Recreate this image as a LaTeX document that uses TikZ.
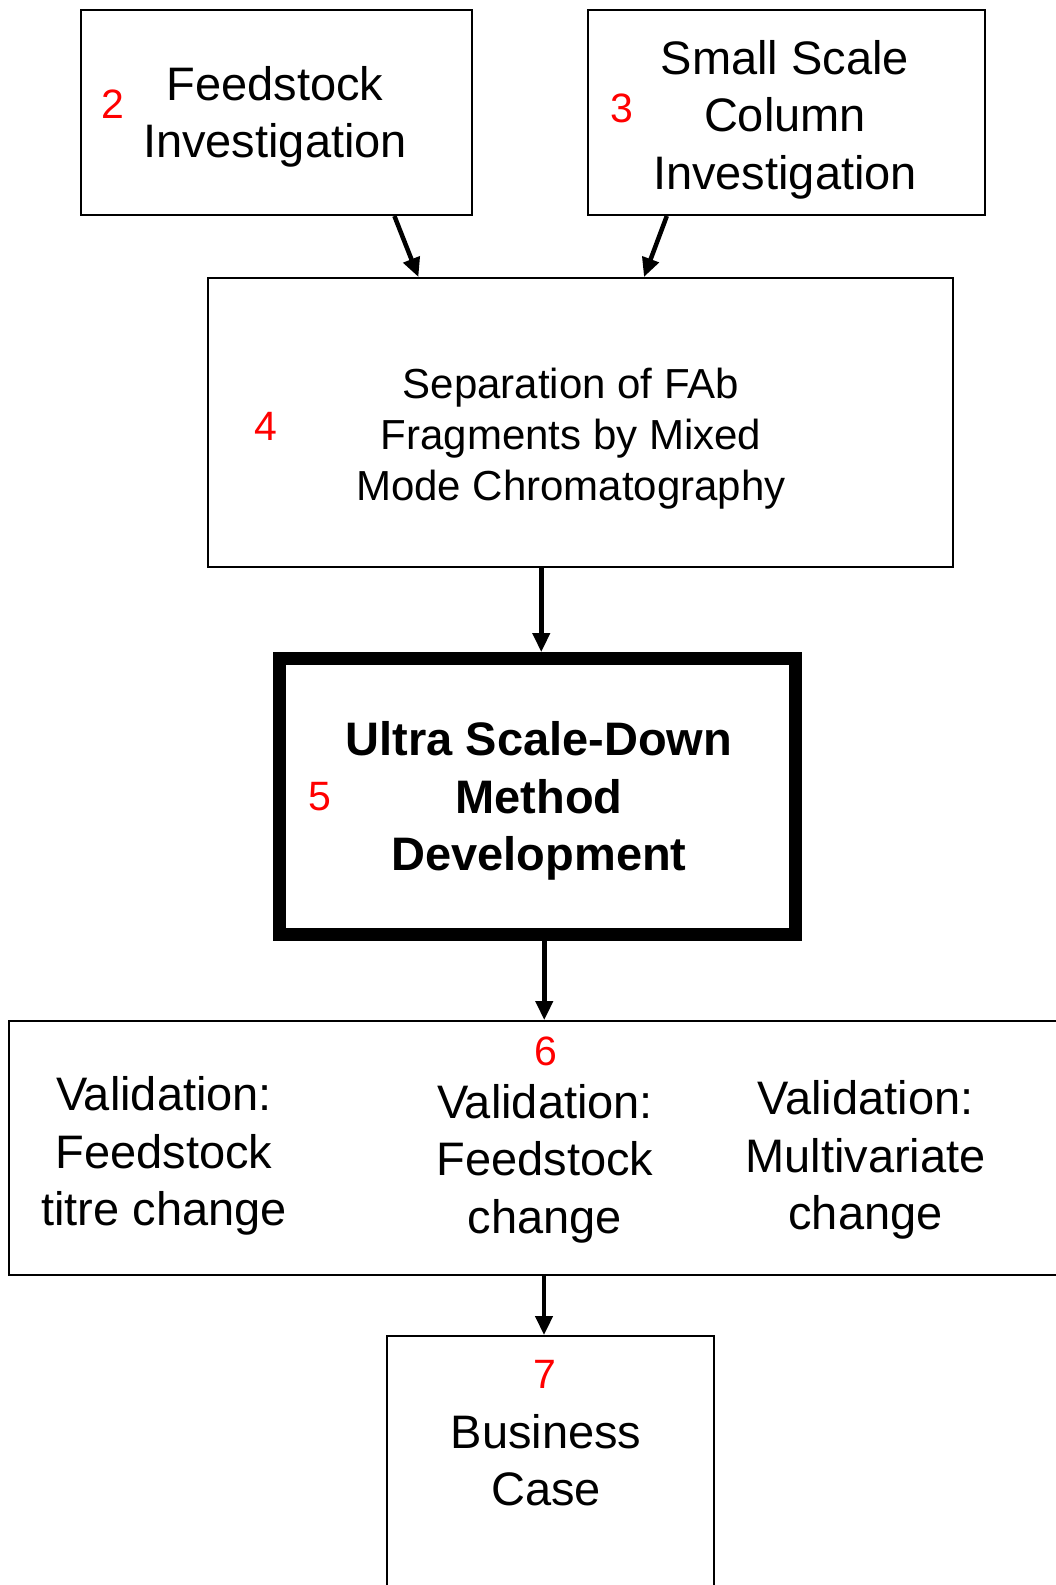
\documentclass[tikz,border=0pt]{standalone}
\usepackage{fontspec}
\setmainfont{Liberation Sans}
\usetikzlibrary{arrows.meta,calc}
\begin{document}
\begin{tikzpicture}[x=1pt,y=-1pt,
  box/.style={draw,line width=2pt,inner sep=0pt,rectangle},
  keybox/.style={draw,line width=13pt,inner sep=0pt,rectangle},
  lbl/.style={align=center,inner sep=0pt,font=\fontsize{47}{57.5}\selectfont},
  smalllbl/.style={align=center,inner sep=0pt,font=\fontsize{42}{51}\selectfont},
  keylbl/.style={align=center,inner sep=0pt,font=\fontsize{47}{57.5}\selectfont\bfseries},
  num/.style={inner sep=0pt,text=red,font=\fontsize{41}{48}\selectfont},
  arr/.style={line width=4.5pt,-{Triangle[length=19pt,width=17pt]}}
]
\useasboundingbox (0,0) rectangle (1056,1585);
\clip (0,0) rectangle (1056,1585);
\fill[white] (0,0) rectangle (1056,1585);

% boxes
\node[box, minimum width=391pt, minimum height=205pt] (b2) at (276.5,112.5) {};
\node[box, minimum width=397pt, minimum height=205pt] (b3) at (786.5,112.5) {};
\node[box, minimum width=745pt, minimum height=289pt] (b4) at (580.5,422.5) {};
\node[keybox, minimum width=515.5pt, minimum height=275.5pt] (b5) at (537.25,796.25) {};
\node[box, minimum width=1061pt, minimum height=254pt] (b6) at (539.5,1148) {};
\node[box, minimum width=327pt, minimum height=284pt] (b7) at (550.5,1478) {};

% step numbers
\node[num] (n2) at (112.7,104) {2};
\node[num] (n3) at (621.5,108.5) {3};
\node[num] (n4) at (266,426.5) {4};
\node[num] (n5) at (320,796.5) {5};
\node[num] (n6) at (546,1051.5) {6};
\node[num] (n7) at (545,1374.5) {7};

% labels
\node[lbl] (t2) at (275,117) {Feedstock\\Investigation};
\node[lbl] (t3) at (785,119.5) {Small Scale\\Column\\Investigation};
\node[smalllbl] (t4) at (571,439) {Separation of FAb\\Fragments by Mixed\\Mode Chromatography};
\node[keylbl] (t5) at (539,801) {Ultra Scale-Down\\Method\\Development};
\node[lbl] (t6a) at (164,1156) {Validation:\\Feedstock\\titre change};
\node[lbl] (t6b) at (545,1163.5) {Validation:\\Feedstock\\change};
\node[lbl] (t6c) at (865.5,1160) {Validation:\\Multivariate\\change};
\node[lbl] (t7) at (546,1460) {Business\\Case};

% connectors
\draw[arr] ($(b2.south west)!0.8!(b2.south east)$) -- ($(b4.north west)!0.283!(b4.north east)$);
\draw[arr] ($(b3.south west)!0.2!(b3.south east)$) -- ($(b4.north west)!0.585!(b4.north east)$);
\draw[arr] ($(b5.north |- b4.south)+(4,0)$) -- ($(b5.north)+(4,0)$);
\draw[arr] ($(b5.south)+(7,0)$) -- ($(b5.south |- b6.north)+(7,0)$);
\draw[arr] ($(b7.north |- b6.south)+(-6.5,0)$) -- ($(b7.north)+(-6.5,0)$);
\end{tikzpicture}
\end{document}
